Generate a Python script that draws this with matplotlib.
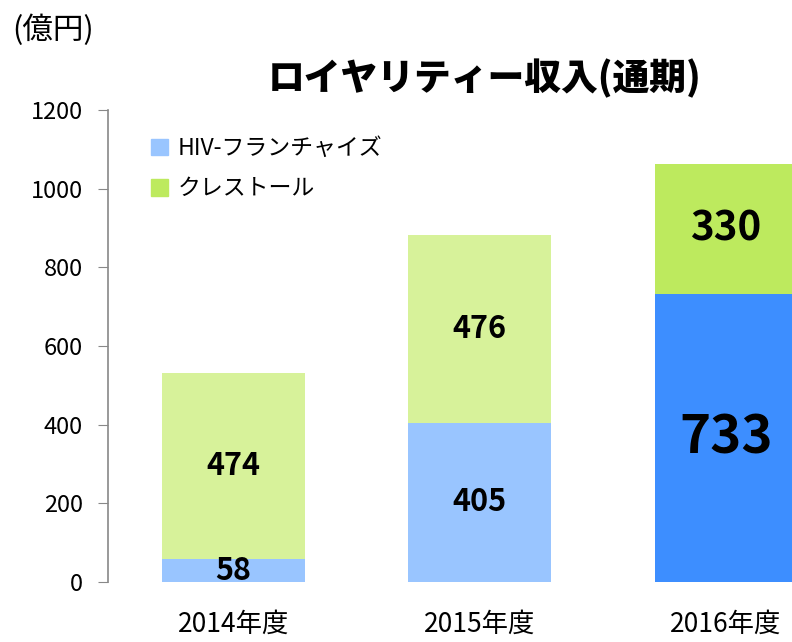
import matplotlib
matplotlib.use("Agg")
import matplotlib.pyplot as plt
from matplotlib.patches import Patch

plt.rcParams['font.family'] = ['Noto Sans CJK JP', 'DejaVu Sans']

# データ
years = ['2014年度', '2015年度', '2016年度']
hiv = [58, 405, 733]
crestor = [474, 476, 330]
hiv_colors = ['#99C5FF', '#99C5FF', '#3D8EFF']
crestor_colors = ['#D7F29A', '#D7F29A', '#BDEA5E']

fig = plt.figure(figsize=(7.92, 6.42), dpi=100)
ax = fig.add_axes([0.136, 0.0935, 0.864, 0.7352])

x = list(range(len(years)))
ax.bar(x, hiv, width=0.58, color=hiv_colors)
ax.bar(x, crestor, width=0.58, bottom=hiv, color=crestor_colors)

for i in x:
    ax.text(i, hiv[i] / 2, str(hiv[i]), ha='center', va='center',
            fontsize=38 if i == 2 else 22, fontweight='bold')
    ax.text(i, hiv[i] + crestor[i] / 2, str(crestor[i]), ha='center', va='center',
            fontsize=29 if i == 2 else 22, fontweight='bold')

ax.set_xlim(-0.51, 2.268)
ax.set_ylim(0, 1200)
ax.set_yticks(range(0, 1201, 200))
ax.set_xticks(x)
ax.set_xticklabels(years, fontsize=19)
ax.tick_params(axis='y', labelsize=17, length=7, color='#888888', pad=11)
ax.tick_params(axis='x', length=0, pad=21)
for s in ['top', 'right', 'bottom']:
    ax.spines[s].set_visible(False)
ax.spines['left'].set_color('#888888')
ax.spines['left'].set_linewidth(1.2)

handles = [Patch(color='#99C5FF', label='HIV-フランチャイズ'),
           Patch(color='#BDEA5E', label='クレストール')]
ax.legend(handles=handles, loc='upper left', bbox_to_anchor=(0.05, 0.962),
          frameon=False, fontsize=16.5, handlelength=0.75, handleheight=0.75,
          handletextpad=0.4, labelspacing=0.75, borderaxespad=0)

fig.text(0.612, 0.878, 'ロイヤリティー収入(通期)', ha='center', va='center',
         fontsize=26.5, fontweight='heavy')
fig.text(0.015, 0.953, '(億円)', ha='left', va='center', fontsize=22)

fig.savefig('out.png', dpi=100)
